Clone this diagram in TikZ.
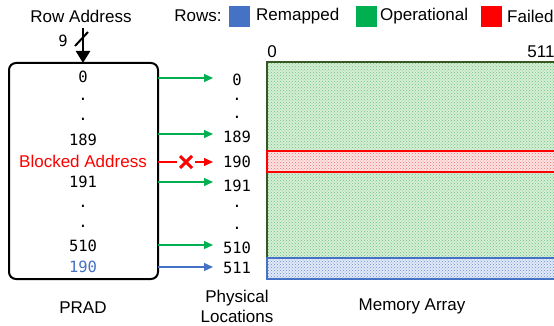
\documentclass[tikz,border=0pt]{standalone}
\usepackage{fontspec}
\setmainfont{Liberation Sans}
\newfontfamily\monof{DejaVu Sans Mono}
\usetikzlibrary{arrows.meta,patterns}
\definecolor{opgreen}{RGB}{0,176,80}
\definecolor{rmblue}{RGB}{68,114,196}
\definecolor{flred}{RGB}{255,0,0}
\definecolor{darkgr}{RGB}{56,87,35}
\definecolor{memfill}{RGB}{214,238,214}
\definecolor{memdot}{RGB}{110,195,125}
\definecolor{redfill}{RGB}{252,228,228}
\definecolor{reddot}{RGB}{240,110,110}
\definecolor{bluefill}{RGB}{226,234,248}
\definecolor{bluedot}{RGB}{110,140,210}
\tikzset{
  lbl/.style={inner sep=0pt, font=\fontsize{17}{20}\selectfont},
  num/.style={inner sep=0pt, font=\monof\fontsize{15.5}{18}\selectfont},
  arr/.style={line width=1.2pt, -{Triangle[length=9pt,width=8pt]}},
  legsq/.style={minimum size=21pt, inner sep=0pt},
}
\begin{document}
\begin{tikzpicture}[x=1pt,y=-1pt]
\useasboundingbox (0,0) rectangle (554,326);
\clip (0,0) rectangle (554,326);
% legend
\node[lbl] (rowaddr) at (81,16) {Row Address};
\node[lbl] (rows) at (198,16) {Rows:};
\node[legsq, fill=rmblue] (sqb) at (239.5,16.5) {};
\node[lbl, anchor=west] (lrm) at (256,16) {Remapped};
\node[legsq, fill=opgreen] (sqg) at (366.5,16.5) {};
\node[lbl, anchor=west] (lop) at (380,16) {Operational};
\node[legsq, fill=flred] (sqr) at (491.5,16.5) {};
\node[lbl, anchor=west] (lfl) at (507,16) {Failed};
% PRAD box
\draw[line width=2pt, rounded corners=7pt] (9,63) rectangle (158,279);
\coordinate (pradtop) at (83,63);
\coordinate (addrin) at (83,28);
\draw[line width=2.5pt, -{Triangle[length=12pt,width=14pt]}] (addrin) -- (pradtop);
\coordinate (sl1) at (75,46);
\coordinate (sl2) at (88,32);
\draw[line width=2pt] (sl1) -- (sl2);
\node[num] (nine) at (63,41) {9};
% PRAD entries
\node[num] (e0) at (83,77) {0};
\node[num] (ed1) at (83,99) {.};
\node[num] (ed2) at (83,119) {.};
\node[num] (e189) at (83,140) {189};
\node[lbl, text=flred] (eblk) at (83,161.5) {Blocked Address};
\node[num] (e191) at (83,182) {191};
\node[num] (ed3) at (83,206) {.};
\node[num] (ed4) at (83,226) {.};
\node[num] (e510) at (83,246) {510};
\node[num, text=rmblue] (e190) at (83,267) {190};
% physical locations
\node[num] (p0) at (237,80) {0};
\node[num] (pd1) at (237,99) {.};
\node[num] (pd2) at (237,117) {.};
\node[num] (p189) at (237,137) {189};
\node[num] (p190) at (237,162) {190};
\node[num] (p191) at (237,186) {191};
\node[num] (pd3) at (237,206) {.};
\node[num] (pd4) at (237,228) {.};
\node[num] (p510) at (237,248) {510};
\node[num] (p511) at (237,268) {511};
% arrows
\coordinate (s0) at (158,78);   \coordinate (t0) at (213,78);
\coordinate (s189) at (158,134); \coordinate (t189) at (213,134);
\coordinate (s191) at (158,182); \coordinate (t191) at (213,182);
\coordinate (s510) at (158,245); \coordinate (t510) at (213,245);
\coordinate (s511) at (158,267); \coordinate (t511) at (213,267);
\draw[arr, opgreen] (s0) -- (t0);
\draw[arr, opgreen] (s189) -- (t189);
\draw[arr, opgreen] (s191) -- (t191);
\draw[arr, opgreen] (s510) -- (t510);
\draw[arr, rmblue] (s511) -- (t511);
\coordinate (s190) at (158,162); \coordinate (m190) at (177,162);
\coordinate (x190) at (186,162);
\coordinate (u190) at (195,162); \coordinate (t190) at (213,162);
\draw[line width=1.2pt, flred] (s190) -- (m190);
\draw[arr, flred] (u190) -- (t190);
\draw[line width=3pt, flred] ([shift={(-6,-6)}]x190) -- ([shift={(6,6)}]x190);
\draw[line width=3pt, flred] ([shift={(-6,6)}]x190) -- ([shift={(6,-6)}]x190);
% memory array
\fill[memfill] (267,62) rectangle (570,279);
\fill[pattern=crosshatch dots, pattern color=memdot] (267,62) rectangle (570,279);
\draw[line width=2.5pt, darkgr] (267,62) rectangle (570,279);
\fill[redfill] (267,151) rectangle (570,172);
\fill[pattern=crosshatch dots, pattern color=reddot] (267,151) rectangle (570,172);
\draw[line width=2pt, flred] (267,151) rectangle (570,172);
\fill[bluefill] (267,258) rectangle (570,279);
\fill[pattern=crosshatch dots, pattern color=bluedot] (267,258) rectangle (570,279);
\draw[line width=2pt, rmblue] (267,258) rectangle (570,279);
\node[lbl] (c0) at (272,52) {0};
\node[lbl] (c511) at (541,52) {511};
% bottom labels
\node[lbl] (prad) at (83,308) {PRAD};
\node[lbl, align=center] (phys) at (237,306) {Physical\\Locations};
\node[lbl] (mem) at (412,306) {Memory Array};
\end{tikzpicture}
\end{document}
